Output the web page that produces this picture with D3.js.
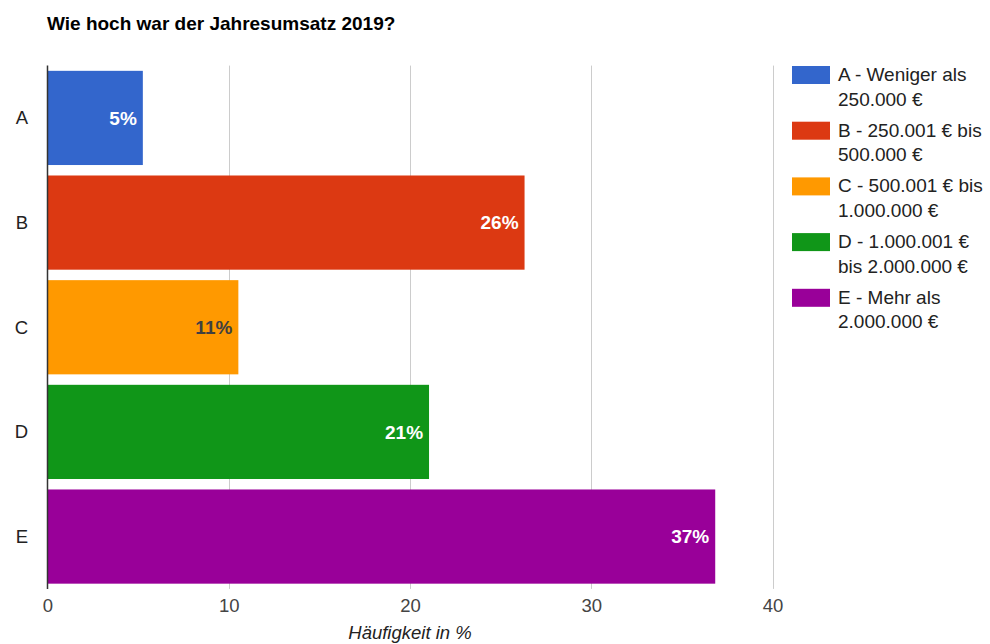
<!DOCTYPE html>
<html>
<head>
<meta charset="utf-8">
<script src="https://cdn.jsdelivr.net/npm/d3@7"></script>
<style>
  html, body { margin: 0; padding: 0; background: #fff; }
  svg { display: block; font-family: Arial, "Liberation Sans", sans-serif; }
</style>
</head>
<body>
<svg id="chart" width="990" height="644"></svg>
<script>
// Umsatzklassen und Anteile der Antworten (in %)
const categories = ["A", "B", "C", "D", "E"];
const values = [5.26, 26.32, 10.53, 21.05, 36.84];
const legendLabels = [
  ["A - Weniger als", "250.000 €"],
  ["B - 250.001 € bis", "500.000 €"],
  ["C - 500.001 € bis", "1.000.000 €"],
  ["D - 1.000.001 €", "bis 2.000.000 €"],
  ["E - Mehr als", "2.000.000 €"]
];
const colors = ["#3366cc", "#dc3912", "#ff9900", "#109618", "#990099"];
const labelColors = ["#ffffff", "#ffffff", "#404040", "#ffffff", "#ffffff"];
const xTicks = [0, 10, 20, 30, 40];
const title = "Wie hoch war der Jahresumsatz 2019?";
const xTitle = "Häufigkeit in %";

const svg = d3.select("#chart");
const plot = { left: 47.5, right: 772.5, top: 65.6, bottom: 588.9 };

const x = d3.scaleLinear().domain([0, 40]).range([plot.left, plot.right]);
const y = d3.scaleBand().domain(categories).range([plot.top, plot.bottom])
  .paddingInner(0.1).paddingOuter(0.05);
const color = d3.scaleOrdinal().domain(categories).range(colors);

const data = categories.map((c, i) => ({ cat: c, value: values[i], labelColor: labelColors[i] }));

// Titel
svg.append("text")
  .attr("x", 47).attr("y", 30)
  .attr("font-size", 19).attr("font-weight", "bold").attr("fill", "#000")
  .text(title);

// Gitterlinien
svg.append("g")
  .selectAll("line")
  .data(xTicks.filter(t => t > 0))
  .join("line")
  .attr("x1", d => Math.round(x(d)) + 0.5).attr("x2", d => Math.round(x(d)) + 0.5)
  .attr("y1", plot.top).attr("y2", plot.bottom)
  .attr("stroke", "#cccccc").attr("stroke-width", 1);

// Balken
svg.append("g")
  .selectAll("rect")
  .data(data)
  .join("rect")
  .attr("x", x(0))
  .attr("y", d => y(d.cat))
  .attr("width", d => x(d.value) - x(0))
  .attr("height", y.bandwidth())
  .attr("fill", d => color(d.cat));

// Wertbeschriftungen in den Balken
const fmt = d3.format(".0f");
svg.append("g")
  .selectAll("text")
  .data(data)
  .join("text")
  .attr("x", d => x(d.value) - 6)
  .attr("y", d => y(d.cat) + y.bandwidth() / 2)
  .attr("dy", "0.35em")
  .attr("text-anchor", "end")
  .attr("font-size", 19)
  .attr("font-weight", "bold")
  .attr("fill", d => d.labelColor)
  .text(d => fmt(d.value) + "%");

// Grundlinie bei 0
svg.append("line")
  .attr("x1", x(0)).attr("x2", x(0))
  .attr("y1", plot.top).attr("y2", plot.bottom)
  .attr("stroke", "#333333").attr("stroke-width", 1.5);

// x-Achse
const xAxis = d3.axisBottom(x).tickValues(xTicks).tickSize(0).tickPadding(0);
const gx = svg.append("g").attr("transform", `translate(0,${plot.bottom})`).call(xAxis);
gx.select(".domain").remove();
gx.selectAll("text")
  .attr("y", 23).attr("dy", 0)
  .attr("font-size", 18.5).attr("fill", "#444444")
  .attr("font-family", "Arial, 'Liberation Sans', sans-serif");

// y-Achse
const yAxis = d3.axisLeft(y).tickSize(0).tickPadding(0);
const gy = svg.append("g").attr("transform", "translate(28,0)").call(yAxis);
gy.select(".domain").remove();
gy.selectAll("text")
  .attr("dy", "0.35em")
  .attr("font-size", 18.5).attr("fill", "#222222")
  .attr("font-family", "Arial, 'Liberation Sans', sans-serif");

// Achsentitel
svg.append("text")
  .attr("x", (x(0) + x(40)) / 2).attr("y", 639)
  .attr("text-anchor", "middle")
  .attr("font-size", 18.5).attr("font-style", "italic").attr("fill", "#222222")
  .text(xTitle);

// Legende
const legend = svg.append("g")
  .selectAll("g")
  .data(categories)
  .join("g")
  .attr("transform", (d, i) => `translate(792,${66 + i * 55.7})`);
legend.append("rect")
  .attr("width", 38).attr("height", 18)
  .attr("fill", d => color(d));
legend.each(function(d, i) {
  const t = d3.select(this).append("text")
    .attr("x", 46).attr("y", 15)
    .attr("font-size", 19).attr("fill", "#222222");
  legendLabels[i].forEach((line, j) => {
    t.append("tspan").attr("x", 46).attr("dy", j === 0 ? 0 : 24.5).text(line);
  });
});
</script>
</body>
</html>
